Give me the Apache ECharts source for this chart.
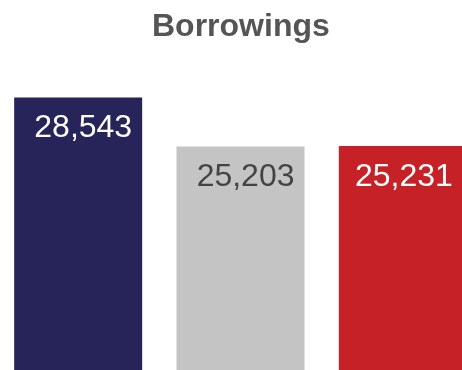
<!DOCTYPE html>
<html>
<head>
<meta charset="utf-8">
<script src="https://cdn.jsdelivr.net/npm/echarts@6/dist/echarts.min.js"></script>
<style>
  html, body { margin: 0; padding: 0; background: #ffffff; }
  #chart { width: 462px; height: 370px; }
</style>
</head>
<body>
<div id="chart"></div>
<script>
// Borrowings by group
const categories = ['Group A', 'Group B', 'Group C'];
const values = [28543, 25203, 25231];
const barColors = ['#262459', '#c4c4c4', '#c62127'];
const labelColors = ['#ffffff', '#444444', '#ffffff'];
// the last bar is cut by the right edge, so its label sits a bit further in
const labelShiftX = [-10, -10, -14];

const fmt = v => String(v).replace(/\B(?=(\d{3})+(?!\d))/g, ',');

const chart = echarts.init(document.getElementById('chart'));
chart.setOption({
  animation: false,
  title: {
    text: 'Borrowings',
    left: 152,
    top: 11,
    padding: 0,
    textStyle: {
      fontFamily: 'Liberation Sans, Arial, sans-serif',
      fontSize: 32,
      fontWeight: 'bold',
      color: '#555555'
    }
  },
  // the plot runs a little past the right edge, so the last bar is cut off
  grid: {
    left: -3,
    width: 487,
    top: 76,
    bottom: 0,
    containLabel: false,
    outerBoundsMode: 'none'
  },
  xAxis: {
    type: 'category',
    data: categories,
    show: false
  },
  yAxis: {
    type: 'value',
    min: 10000,
    max: 30000,
    show: false,
    splitLine: { show: false }
  },
  series: [{
    type: 'bar',
    barWidth: 128,
    data: values.map((v, i) => ({
      value: v,
      itemStyle: { color: barColors[i] },
      label: { color: labelColors[i], offset: [labelShiftX[i], 15] }
    })),
    label: {
      show: true,
      position: 'insideTopRight',
      distance: 0,
      fontFamily: 'Liberation Sans, Arial, sans-serif',
      fontSize: 32,
      formatter: p => fmt(p.value)
    }
  }]
});
</script>
</body>
</html>
